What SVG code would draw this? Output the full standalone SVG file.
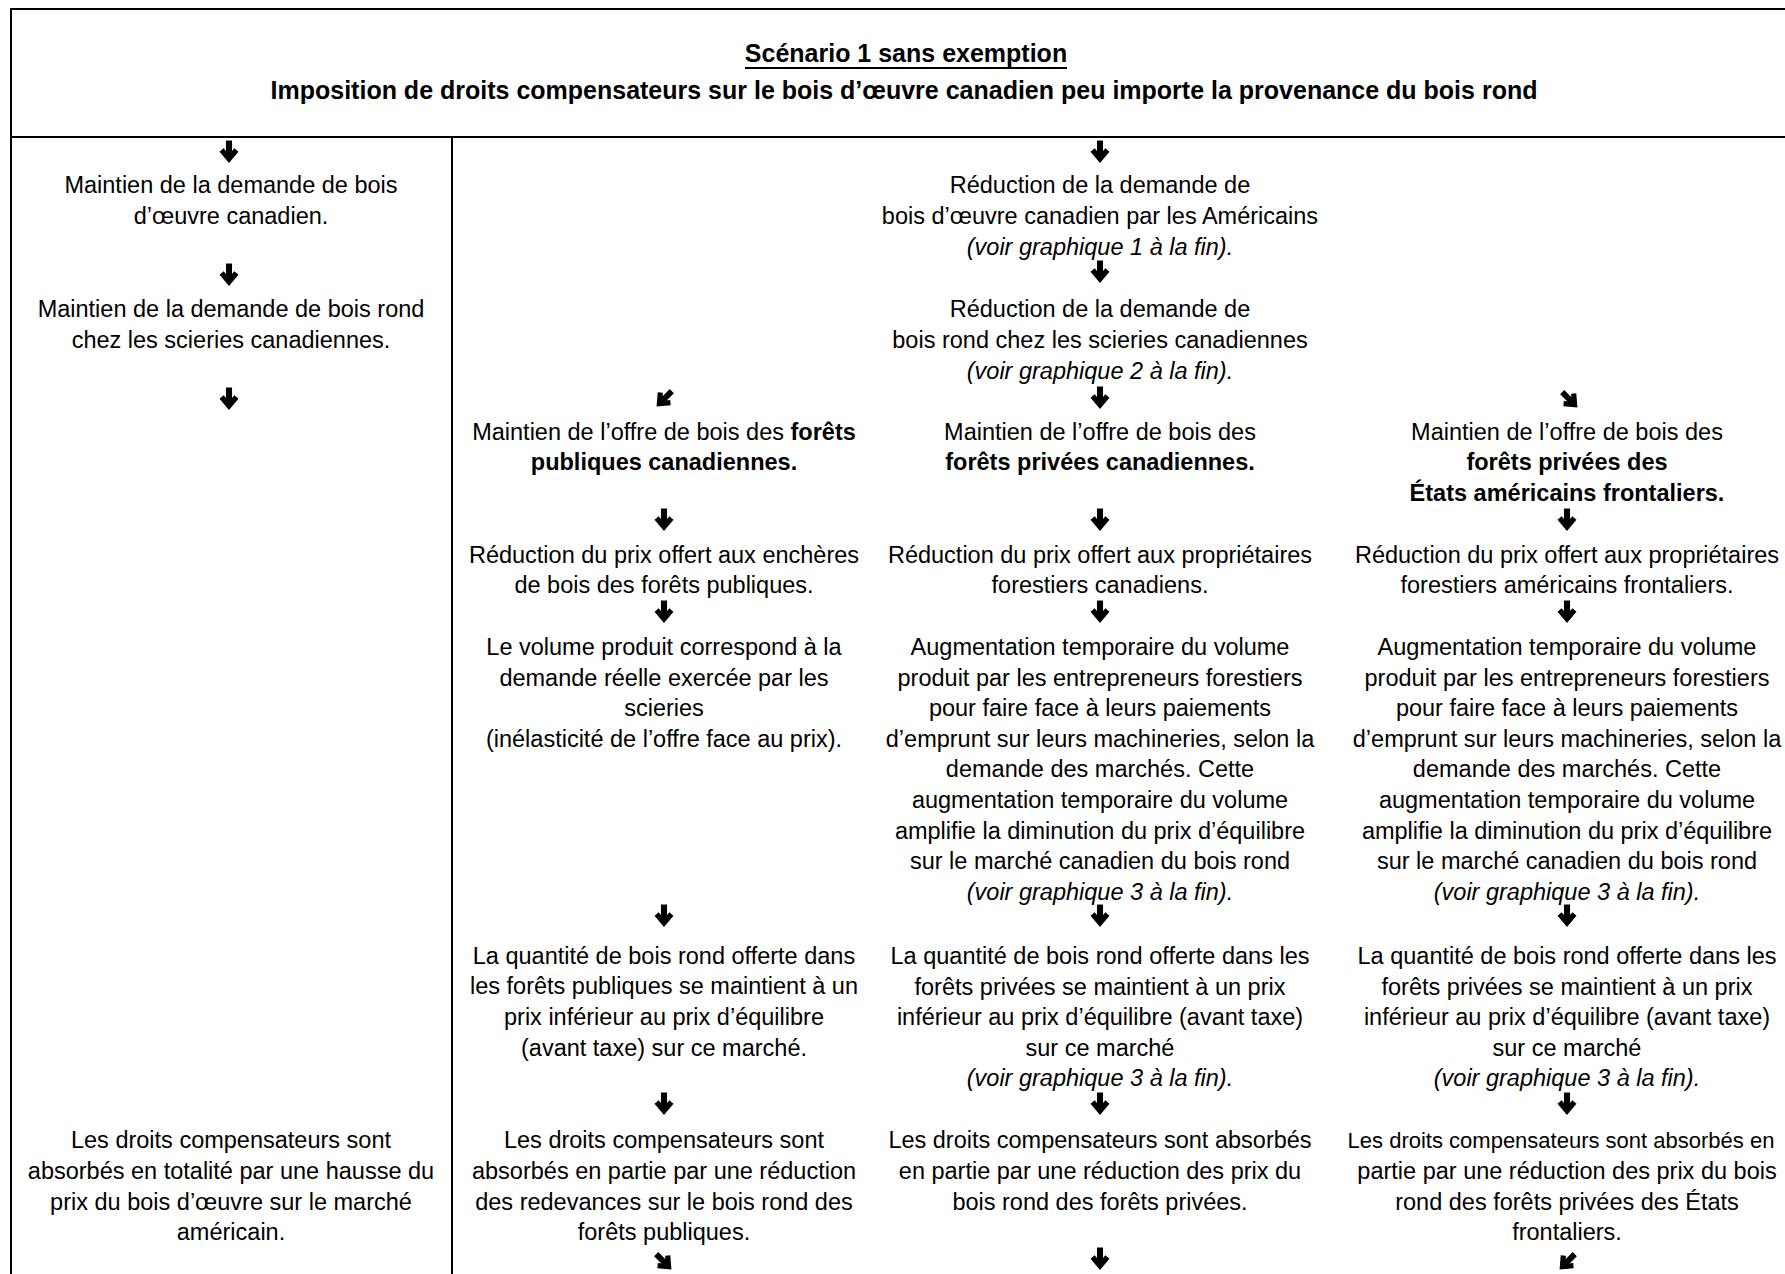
<svg xmlns="http://www.w3.org/2000/svg" width="1785" height="1274" viewBox="0 0 1785 1274">
<defs>
<style>
.t{font-family:"Liberation Sans",Arial,sans-serif;font-size:23.5px;text-anchor:middle;fill:#000}
.b{font-weight:bold}
.i{font-style:italic}
.h{font-family:"Liberation Sans",Arial,sans-serif;font-size:25px;font-weight:bold;text-anchor:middle;fill:#000}
.rule{stroke:#000;stroke-width:2;fill:none}
</style>
<g id="ad">
<path d="M0,-8.5 V4" stroke="#000" stroke-width="4.5" fill="none"/>
<path d="M-5.5,-1.5 L0,5 L5.5,-1.5" stroke="#000" stroke-width="4" fill="none" stroke-linejoin="miter" stroke-miterlimit="10"/>
</g>
</defs>
<rect width="1785" height="1274" fill="#fff"/>

<g id="table">
<path class="rule" d="M11,1274 V9 H1785"/>
<path class="rule" d="M11,137 H1785"/>
<path class="rule" d="M452,137 V1274"/>
</g>

<g id="header">
<text class="h" x="906" y="62">Scénario 1 sans exemption</text>
<line x1="745" y1="68" x2="1067" y2="68" stroke="#000" stroke-width="2"/>
<text class="h" x="904" y="99">Imposition de droits compensateurs sur le bois d’œuvre canadien peu importe la provenance du bois rond</text>
</g>

<g id="n1a"><text class="t" x="231" y="193">Maintien de la demande de bois</text><text class="t" x="231" y="224">d’œuvre canadien.</text></g>
<g id="n1b"><text class="t" x="231" y="317">Maintien de la demande de bois rond</text><text class="t" x="231" y="348">chez les scieries canadiennes.</text></g>
<g id="n1c"><text class="t" x="231" y="1148">Les droits compensateurs sont</text><text class="t" x="231" y="1179">absorbés en totalité par une hausse du</text><text class="t" x="231" y="1210">prix du bois d’œuvre sur le marché</text><text class="t" x="231" y="1240">américain.</text></g>

<g id="n3a"><text class="t" x="1100" y="193">Réduction de la demande de</text><text class="t" x="1100" y="224">bois d’œuvre canadien par les Américains</text><text class="t i" x="1100" y="255">(voir graphique 1 à la fin).</text></g>
<g id="n3b"><text class="t" x="1100" y="317">Réduction de la demande de</text><text class="t" x="1100" y="348">bois rond chez les scieries canadiennes</text><text class="t i" x="1100" y="379">(voir graphique 2 à la fin).</text></g>

<g id="n2a"><text class="t" x="664" y="440">Maintien de l’offre de bois des <tspan class="b">forêts</tspan></text><text class="t b" x="664" y="470">publiques canadiennes.</text></g>
<g id="n2b"><text class="t" x="664" y="563">Réduction du prix offert aux enchères</text><text class="t" x="664" y="593">de bois des forêts publiques.</text></g>
<g id="n2c"><text class="t" x="664" y="655">Le volume produit correspond à la</text><text class="t" x="664" y="686">demande réelle exercée par les</text><text class="t" x="664" y="716">scieries</text><text class="t" x="664" y="747">(inélasticité de l’offre face au prix).</text></g>
<g id="n2d"><text class="t" x="664" y="964">La quantité de bois rond offerte dans</text><text class="t" x="664" y="994">les forêts publiques se maintient à un</text><text class="t" x="664" y="1025">prix inférieur au prix d’équilibre</text><text class="t" x="664" y="1056">(avant taxe) sur ce marché.</text></g>
<g id="n2e"><text class="t" x="664" y="1148">Les droits compensateurs sont</text><text class="t" x="664" y="1179">absorbés en partie par une réduction</text><text class="t" x="664" y="1210">des redevances sur le bois rond des</text><text class="t" x="664" y="1240">forêts publiques.</text></g>

<g id="n3c"><text class="t" x="1100" y="440">Maintien de l’offre de bois des</text><text class="t b" x="1100" y="470">forêts privées canadiennes.</text></g>
<g id="n3d"><text class="t" x="1100" y="563">Réduction du prix offert aux propriétaires</text><text class="t" x="1100" y="593">forestiers canadiens.</text></g>
<g id="n3e"><text class="t" x="1100" y="655">Augmentation temporaire du volume</text><text class="t" x="1100" y="685.6">produit par les entrepreneurs forestiers</text><text class="t" x="1100" y="716.2">pour faire face à leurs paiements</text><text class="t" x="1100" y="746.8">d’emprunt sur leurs machineries, selon la</text><text class="t" x="1100" y="777.4">demande des marchés. Cette</text><text class="t" x="1100" y="808">augmentation temporaire du volume</text><text class="t" x="1100" y="838.6">amplifie la diminution du prix d’équilibre</text><text class="t" x="1100" y="869.2">sur le marché canadien du bois rond</text><text class="t i" x="1100" y="899.8">(voir graphique 3 à la fin).</text></g>
<g id="n3f"><text class="t" x="1100" y="964">La quantité de bois rond offerte dans les</text><text class="t" x="1100" y="994.5">forêts privées se maintient à un prix</text><text class="t" x="1100" y="1025">inférieur au prix d’équilibre (avant taxe)</text><text class="t" x="1100" y="1055.5">sur ce marché</text><text class="t i" x="1100" y="1086">(voir graphique 3 à la fin).</text></g>
<g id="n3g"><text class="t" x="1100" y="1148">Les droits compensateurs sont absorbés</text><text class="t" x="1100" y="1179">en partie par une réduction des prix du</text><text class="t" x="1100" y="1210">bois rond des forêts privées.</text></g>

<g id="n4a"><text class="t" x="1567" y="440">Maintien de l’offre de bois des</text><text class="t b" x="1567" y="470">forêts privées des</text><text class="t b" x="1567" y="501">États américains frontaliers.</text></g>
<g id="n4b"><text class="t" x="1567" y="563">Réduction du prix offert aux propriétaires</text><text class="t" x="1567" y="593">forestiers américains frontaliers.</text></g>
<g id="n4c"><text class="t" x="1567" y="655">Augmentation temporaire du volume</text><text class="t" x="1567" y="685.6">produit par les entrepreneurs forestiers</text><text class="t" x="1567" y="716.2">pour faire face à leurs paiements</text><text class="t" x="1567" y="746.8">d’emprunt sur leurs machineries, selon la</text><text class="t" x="1567" y="777.4">demande des marchés. Cette</text><text class="t" x="1567" y="808">augmentation temporaire du volume</text><text class="t" x="1567" y="838.6">amplifie la diminution du prix d’équilibre</text><text class="t" x="1567" y="869.2">sur le marché canadien du bois rond</text><text class="t i" x="1567" y="899.8">(voir graphique 3 à la fin).</text></g>
<g id="n4d"><text class="t" x="1567" y="964">La quantité de bois rond offerte dans les</text><text class="t" x="1567" y="994.5">forêts privées se maintient à un prix</text><text class="t" x="1567" y="1025">inférieur au prix d’équilibre (avant taxe)</text><text class="t" x="1567" y="1055.5">sur ce marché</text><text class="t i" x="1567" y="1086">(voir graphique 3 à la fin).</text></g>
<g id="n4e"><text class="t" x="1561" y="1148" style="font-size:22px">Les droits compensateurs sont absorbés en</text><text class="t" x="1567" y="1179">partie par une réduction des prix du bois</text><text class="t" x="1567" y="1210">rond des forêts privées des États</text><text class="t" x="1567" y="1240">frontaliers.</text></g>

<g id="connectors">
<use href="#ad" transform="translate(229,152) scale(1.35)"/>
<use href="#ad" transform="translate(229,275) scale(1.35)"/>
<use href="#ad" transform="translate(229,399) scale(1.35)"/>
<use href="#ad" transform="translate(1100,152) scale(1.35)"/>
<use href="#ad" transform="translate(1100,272) scale(1.35)"/>
<use href="#ad" transform="translate(1100,398) scale(1.35)"/>
<use href="#ad" transform="translate(664,399) rotate(45) scale(1.3)"/>
<use href="#ad" transform="translate(1570,400) rotate(-45) scale(1.3)"/>
<use href="#ad" transform="translate(664,520) scale(1.35)"/>
<use href="#ad" transform="translate(1100,520) scale(1.35)"/>
<use href="#ad" transform="translate(1567,520) scale(1.35)"/>
<use href="#ad" transform="translate(664,612) scale(1.35)"/>
<use href="#ad" transform="translate(1100,612) scale(1.35)"/>
<use href="#ad" transform="translate(1567,612) scale(1.35)"/>
<use href="#ad" transform="translate(664,916) scale(1.35)"/>
<use href="#ad" transform="translate(1100,916) scale(1.35)"/>
<use href="#ad" transform="translate(1567,916) scale(1.35)"/>
<use href="#ad" transform="translate(664,1104) scale(1.35)"/>
<use href="#ad" transform="translate(1100,1104) scale(1.35)"/>
<use href="#ad" transform="translate(1567,1104) scale(1.35)"/>
<use href="#ad" transform="translate(664,1262) rotate(-45) scale(1.3)"/>
<use href="#ad" transform="translate(1100,1259) scale(1.35)"/>
<use href="#ad" transform="translate(1567,1262) rotate(45) scale(1.3)"/>
</g>
</svg>
